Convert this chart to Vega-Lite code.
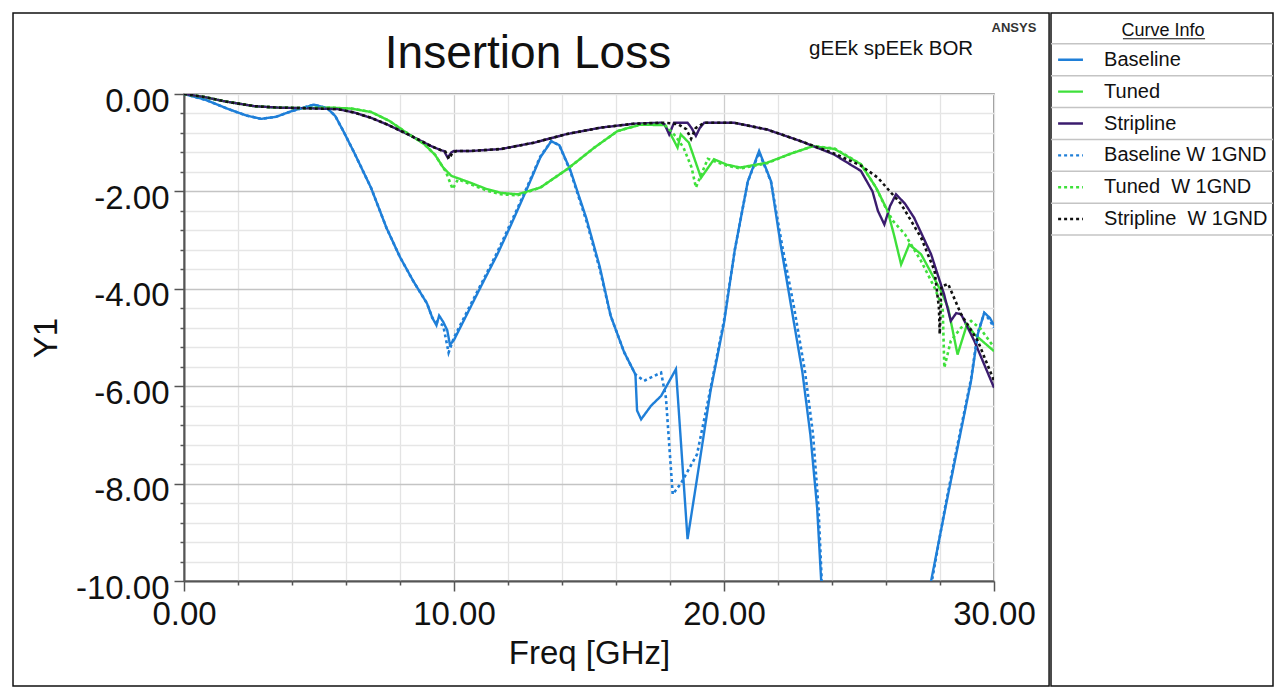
{
  "$schema": "https://vega.github.io/schema/vega-lite/v6.json",
  "background": "white",
  "padding": {"left": 11, "top": 11, "right": 5, "bottom": 2},
  "spacing": -6,
  "columns": 2,
  "config": {
    "font": "Liberation Sans",
    "view": {"stroke": "#777", "strokeWidth": 1.5}
  },
  "datasets": {
    "curves": [
      {"series": "Baseline", "freq": 0, "y1": 0},
      {"series": "Baseline", "freq": 0.8, "y1": -0.12},
      {"series": "Baseline", "freq": 1.6, "y1": -0.3},
      {"series": "Baseline", "freq": 2.3, "y1": -0.44},
      {"series": "Baseline", "freq": 2.85, "y1": -0.51},
      {"series": "Baseline", "freq": 3.4, "y1": -0.47},
      {"series": "Baseline", "freq": 4.0, "y1": -0.35},
      {"series": "Baseline", "freq": 4.8, "y1": -0.22},
      {"series": "Baseline", "freq": 5.3, "y1": -0.29},
      {"series": "Baseline", "freq": 5.6, "y1": -0.45},
      {"series": "Baseline", "freq": 5.9, "y1": -0.76},
      {"series": "Baseline", "freq": 6.3, "y1": -1.2},
      {"series": "Baseline", "freq": 6.93, "y1": -1.93},
      {"series": "Baseline", "freq": 7.5, "y1": -2.75},
      {"series": "Baseline", "freq": 8.0, "y1": -3.35},
      {"series": "Baseline", "freq": 8.5, "y1": -3.85},
      {"series": "Baseline", "freq": 9.0, "y1": -4.3},
      {"series": "Baseline", "freq": 9.2, "y1": -4.6},
      {"series": "Baseline", "freq": 9.35, "y1": -4.75},
      {"series": "Baseline", "freq": 9.45, "y1": -4.55},
      {"series": "Baseline", "freq": 9.6, "y1": -4.68},
      {"series": "Baseline", "freq": 9.75, "y1": -4.85},
      {"series": "Baseline", "freq": 9.85, "y1": -5.15},
      {"series": "Baseline", "freq": 10.0, "y1": -5.05},
      {"series": "Baseline", "freq": 10.5, "y1": -4.5},
      {"series": "Baseline", "freq": 11.1, "y1": -3.84},
      {"series": "Baseline", "freq": 11.6, "y1": -3.3},
      {"series": "Baseline", "freq": 12.1, "y1": -2.7},
      {"series": "Baseline", "freq": 12.7, "y1": -1.95},
      {"series": "Baseline", "freq": 13.2, "y1": -1.3},
      {"series": "Baseline", "freq": 13.6, "y1": -0.97},
      {"series": "Baseline", "freq": 13.9, "y1": -1.05},
      {"series": "Baseline", "freq": 14.3, "y1": -1.55},
      {"series": "Baseline", "freq": 14.9, "y1": -2.55},
      {"series": "Baseline", "freq": 15.4, "y1": -3.55},
      {"series": "Baseline", "freq": 15.8, "y1": -4.55},
      {"series": "Baseline", "freq": 16.3, "y1": -5.3},
      {"series": "Baseline", "freq": 16.72, "y1": -5.76},
      {"series": "Baseline", "freq": 16.78, "y1": -6.5},
      {"series": "Baseline", "freq": 16.93, "y1": -6.68},
      {"series": "Baseline", "freq": 17.3, "y1": -6.4},
      {"series": "Baseline", "freq": 17.67, "y1": -6.2},
      {"series": "Baseline", "freq": 18.22, "y1": -5.65},
      {"series": "Baseline", "freq": 18.65, "y1": -9.14},
      {"series": "Baseline", "freq": 19.0, "y1": -7.9},
      {"series": "Baseline", "freq": 19.5, "y1": -6.1},
      {"series": "Baseline", "freq": 20.0, "y1": -4.7},
      {"series": "Baseline", "freq": 20.4, "y1": -3.2},
      {"series": "Baseline", "freq": 20.88, "y1": -1.8},
      {"series": "Baseline", "freq": 21.3, "y1": -1.17},
      {"series": "Baseline", "freq": 21.74, "y1": -1.79},
      {"series": "Baseline", "freq": 22.1, "y1": -3.1},
      {"series": "Baseline", "freq": 22.5, "y1": -4.4},
      {"series": "Baseline", "freq": 22.9, "y1": -5.7},
      {"series": "Baseline", "freq": 23.2, "y1": -7.0},
      {"series": "Baseline", "freq": 23.45, "y1": -8.5},
      {"series": "Baseline", "freq": 23.6, "y1": -10.0},
      {"series": "Baseline", "freq": 23.7, "y1": -11.5},
      {"series": "Baseline", "freq": 27.5, "y1": -11.5},
      {"series": "Baseline", "freq": 27.67, "y1": -10.0},
      {"series": "Baseline", "freq": 28.2, "y1": -8.5},
      {"series": "Baseline", "freq": 28.65, "y1": -7.26},
      {"series": "Baseline", "freq": 29.15, "y1": -5.89},
      {"series": "Baseline", "freq": 29.4, "y1": -4.93},
      {"series": "Baseline", "freq": 29.64, "y1": -4.49},
      {"series": "Baseline", "freq": 29.85, "y1": -4.6},
      {"series": "Baseline", "freq": 30.0, "y1": -4.75},

      {"series": "Tuned", "freq": 0, "y1": 0},
      {"series": "Tuned", "freq": 0.74, "y1": -0.06},
      {"series": "Tuned", "freq": 1.5, "y1": -0.15},
      {"series": "Tuned", "freq": 2.6, "y1": -0.25},
      {"series": "Tuned", "freq": 3.5, "y1": -0.28},
      {"series": "Tuned", "freq": 4.4, "y1": -0.29},
      {"series": "Tuned", "freq": 5.4, "y1": -0.28},
      {"series": "Tuned", "freq": 6.2, "y1": -0.3},
      {"series": "Tuned", "freq": 6.93, "y1": -0.37},
      {"series": "Tuned", "freq": 7.6, "y1": -0.55},
      {"series": "Tuned", "freq": 8.15, "y1": -0.76},
      {"series": "Tuned", "freq": 8.9, "y1": -1.03},
      {"series": "Tuned", "freq": 9.3, "y1": -1.25},
      {"series": "Tuned", "freq": 9.6, "y1": -1.51},
      {"series": "Tuned", "freq": 9.9, "y1": -1.68},
      {"series": "Tuned", "freq": 10.1, "y1": -1.72},
      {"series": "Tuned", "freq": 10.6, "y1": -1.82},
      {"series": "Tuned", "freq": 11.2, "y1": -1.95},
      {"series": "Tuned", "freq": 11.74, "y1": -2.03},
      {"series": "Tuned", "freq": 12.36, "y1": -2.06},
      {"series": "Tuned", "freq": 13.2, "y1": -1.92},
      {"series": "Tuned", "freq": 14.2, "y1": -1.54},
      {"series": "Tuned", "freq": 15.2, "y1": -1.1},
      {"series": "Tuned", "freq": 16.06, "y1": -0.76},
      {"series": "Tuned", "freq": 16.9, "y1": -0.63},
      {"series": "Tuned", "freq": 17.8, "y1": -0.64},
      {"series": "Tuned", "freq": 18.0, "y1": -0.8},
      {"series": "Tuned", "freq": 18.28, "y1": -1.1},
      {"series": "Tuned", "freq": 18.4, "y1": -0.83},
      {"series": "Tuned", "freq": 18.7, "y1": -1.0},
      {"series": "Tuned", "freq": 19.15, "y1": -1.72},
      {"series": "Tuned", "freq": 19.63, "y1": -1.34},
      {"series": "Tuned", "freq": 20.1, "y1": -1.45},
      {"series": "Tuned", "freq": 20.6, "y1": -1.51},
      {"series": "Tuned", "freq": 21.6, "y1": -1.41},
      {"series": "Tuned", "freq": 22.5, "y1": -1.22},
      {"series": "Tuned", "freq": 23.3, "y1": -1.07},
      {"series": "Tuned", "freq": 24.1, "y1": -1.13},
      {"series": "Tuned", "freq": 25.07, "y1": -1.44},
      {"series": "Tuned", "freq": 25.63, "y1": -1.92},
      {"series": "Tuned", "freq": 26.06, "y1": -2.4},
      {"series": "Tuned", "freq": 26.3, "y1": -2.9},
      {"series": "Tuned", "freq": 26.56, "y1": -3.5},
      {"series": "Tuned", "freq": 26.86, "y1": -3.09},
      {"series": "Tuned", "freq": 27.3, "y1": -3.29},
      {"series": "Tuned", "freq": 28.04, "y1": -4.05},
      {"series": "Tuned", "freq": 28.3, "y1": -4.39},
      {"series": "Tuned", "freq": 28.65, "y1": -5.35},
      {"series": "Tuned", "freq": 29.0, "y1": -4.73},
      {"series": "Tuned", "freq": 29.27, "y1": -4.93},
      {"series": "Tuned", "freq": 30.0, "y1": -5.28},

      {"series": "Stripline", "freq": 0, "y1": 0},
      {"series": "Stripline", "freq": 0.74, "y1": -0.06},
      {"series": "Stripline", "freq": 1.5, "y1": -0.15},
      {"series": "Stripline", "freq": 2.6, "y1": -0.25},
      {"series": "Stripline", "freq": 3.5, "y1": -0.28},
      {"series": "Stripline", "freq": 4.4, "y1": -0.29},
      {"series": "Stripline", "freq": 5.7, "y1": -0.31},
      {"series": "Stripline", "freq": 6.3, "y1": -0.38},
      {"series": "Stripline", "freq": 6.93, "y1": -0.49},
      {"series": "Stripline", "freq": 7.5, "y1": -0.62},
      {"series": "Stripline", "freq": 8.15, "y1": -0.79},
      {"series": "Stripline", "freq": 8.7, "y1": -0.94},
      {"series": "Stripline", "freq": 9.15, "y1": -1.07},
      {"series": "Stripline", "freq": 9.5, "y1": -1.15},
      {"series": "Stripline", "freq": 9.63, "y1": -1.17},
      {"series": "Stripline", "freq": 9.77, "y1": -1.31},
      {"series": "Stripline", "freq": 9.9, "y1": -1.2},
      {"series": "Stripline", "freq": 10.0, "y1": -1.17},
      {"series": "Stripline", "freq": 10.63, "y1": -1.17},
      {"series": "Stripline", "freq": 11.74, "y1": -1.13},
      {"series": "Stripline", "freq": 12.96, "y1": -1.0},
      {"series": "Stripline", "freq": 14.2, "y1": -0.82},
      {"series": "Stripline", "freq": 15.44, "y1": -0.69},
      {"series": "Stripline", "freq": 16.67, "y1": -0.61},
      {"series": "Stripline", "freq": 17.67, "y1": -0.59},
      {"series": "Stripline", "freq": 17.8, "y1": -0.62},
      {"series": "Stripline", "freq": 17.97, "y1": -0.83},
      {"series": "Stripline", "freq": 18.15, "y1": -0.59},
      {"series": "Stripline", "freq": 18.65, "y1": -0.59},
      {"series": "Stripline", "freq": 18.8, "y1": -0.7},
      {"series": "Stripline", "freq": 18.96, "y1": -0.86},
      {"series": "Stripline", "freq": 19.1, "y1": -0.7},
      {"series": "Stripline", "freq": 19.27, "y1": -0.59},
      {"series": "Stripline", "freq": 20.37, "y1": -0.59},
      {"series": "Stripline", "freq": 21.6, "y1": -0.73},
      {"series": "Stripline", "freq": 22.85, "y1": -0.97},
      {"series": "Stripline", "freq": 24.07, "y1": -1.24},
      {"series": "Stripline", "freq": 25.07, "y1": -1.58},
      {"series": "Stripline", "freq": 25.5, "y1": -2.0},
      {"series": "Stripline", "freq": 25.7, "y1": -2.4},
      {"series": "Stripline", "freq": 25.94, "y1": -2.68},
      {"series": "Stripline", "freq": 26.15, "y1": -2.3},
      {"series": "Stripline", "freq": 26.37, "y1": -2.06},
      {"series": "Stripline", "freq": 26.7, "y1": -2.25},
      {"series": "Stripline", "freq": 27.04, "y1": -2.54},
      {"series": "Stripline", "freq": 27.67, "y1": -3.29},
      {"series": "Stripline", "freq": 28.15, "y1": -4.11},
      {"series": "Stripline", "freq": 28.4, "y1": -4.66},
      {"series": "Stripline", "freq": 28.6, "y1": -4.5},
      {"series": "Stripline", "freq": 28.78, "y1": -4.52},
      {"series": "Stripline", "freq": 29.27, "y1": -5.07},
      {"series": "Stripline", "freq": 30.0, "y1": -6.03},

      {"series": "Baseline W 1GND", "freq": 0, "y1": 0},
      {"series": "Baseline W 1GND", "freq": 0.8, "y1": -0.12},
      {"series": "Baseline W 1GND", "freq": 1.6, "y1": -0.3},
      {"series": "Baseline W 1GND", "freq": 2.3, "y1": -0.44},
      {"series": "Baseline W 1GND", "freq": 2.85, "y1": -0.51},
      {"series": "Baseline W 1GND", "freq": 3.4, "y1": -0.47},
      {"series": "Baseline W 1GND", "freq": 4.0, "y1": -0.35},
      {"series": "Baseline W 1GND", "freq": 4.8, "y1": -0.22},
      {"series": "Baseline W 1GND", "freq": 5.3, "y1": -0.29},
      {"series": "Baseline W 1GND", "freq": 5.6, "y1": -0.45},
      {"series": "Baseline W 1GND", "freq": 5.9, "y1": -0.76},
      {"series": "Baseline W 1GND", "freq": 6.3, "y1": -1.2},
      {"series": "Baseline W 1GND", "freq": 6.93, "y1": -1.93},
      {"series": "Baseline W 1GND", "freq": 7.5, "y1": -2.75},
      {"series": "Baseline W 1GND", "freq": 8.0, "y1": -3.35},
      {"series": "Baseline W 1GND", "freq": 8.5, "y1": -3.85},
      {"series": "Baseline W 1GND", "freq": 9.0, "y1": -4.3},
      {"series": "Baseline W 1GND", "freq": 9.2, "y1": -4.6},
      {"series": "Baseline W 1GND", "freq": 9.4, "y1": -4.7},
      {"series": "Baseline W 1GND", "freq": 9.6, "y1": -4.75},
      {"series": "Baseline W 1GND", "freq": 9.8, "y1": -5.31},
      {"series": "Baseline W 1GND", "freq": 10.0, "y1": -5.0},
      {"series": "Baseline W 1GND", "freq": 10.5, "y1": -4.45},
      {"series": "Baseline W 1GND", "freq": 11.1, "y1": -3.8},
      {"series": "Baseline W 1GND", "freq": 11.6, "y1": -3.25},
      {"series": "Baseline W 1GND", "freq": 12.1, "y1": -2.65},
      {"series": "Baseline W 1GND", "freq": 12.7, "y1": -1.92},
      {"series": "Baseline W 1GND", "freq": 13.2, "y1": -1.28},
      {"series": "Baseline W 1GND", "freq": 13.6, "y1": -0.97},
      {"series": "Baseline W 1GND", "freq": 13.9, "y1": -1.05},
      {"series": "Baseline W 1GND", "freq": 14.3, "y1": -1.57},
      {"series": "Baseline W 1GND", "freq": 14.9, "y1": -2.6},
      {"series": "Baseline W 1GND", "freq": 15.4, "y1": -3.6},
      {"series": "Baseline W 1GND", "freq": 15.8, "y1": -4.55},
      {"series": "Baseline W 1GND", "freq": 16.3, "y1": -5.3},
      {"series": "Baseline W 1GND", "freq": 16.72, "y1": -5.76},
      {"series": "Baseline W 1GND", "freq": 17.04, "y1": -5.89},
      {"series": "Baseline W 1GND", "freq": 17.67, "y1": -5.72},
      {"series": "Baseline W 1GND", "freq": 17.85, "y1": -6.24},
      {"series": "Baseline W 1GND", "freq": 18.1, "y1": -8.22},
      {"series": "Baseline W 1GND", "freq": 18.4, "y1": -8.0},
      {"series": "Baseline W 1GND", "freq": 19.0, "y1": -7.4},
      {"series": "Baseline W 1GND", "freq": 19.5, "y1": -6.05},
      {"series": "Baseline W 1GND", "freq": 20.0, "y1": -4.65},
      {"series": "Baseline W 1GND", "freq": 20.4, "y1": -3.2},
      {"series": "Baseline W 1GND", "freq": 20.88, "y1": -1.8},
      {"series": "Baseline W 1GND", "freq": 21.3, "y1": -1.2},
      {"series": "Baseline W 1GND", "freq": 21.74, "y1": -1.8},
      {"series": "Baseline W 1GND", "freq": 22.15, "y1": -3.1},
      {"series": "Baseline W 1GND", "freq": 22.6, "y1": -4.4},
      {"series": "Baseline W 1GND", "freq": 23.0, "y1": -5.7},
      {"series": "Baseline W 1GND", "freq": 23.3, "y1": -7.0},
      {"series": "Baseline W 1GND", "freq": 23.5, "y1": -8.5},
      {"series": "Baseline W 1GND", "freq": 23.62, "y1": -10.0},
      {"series": "Baseline W 1GND", "freq": 23.72, "y1": -11.5},
      {"series": "Baseline W 1GND", "freq": 27.5, "y1": -11.5},
      {"series": "Baseline W 1GND", "freq": 27.7, "y1": -10.0},
      {"series": "Baseline W 1GND", "freq": 28.2, "y1": -8.45},
      {"series": "Baseline W 1GND", "freq": 28.65, "y1": -7.2},
      {"series": "Baseline W 1GND", "freq": 29.15, "y1": -5.85},
      {"series": "Baseline W 1GND", "freq": 29.4, "y1": -4.9},
      {"series": "Baseline W 1GND", "freq": 29.64, "y1": -4.5},
      {"series": "Baseline W 1GND", "freq": 29.85, "y1": -4.65},
      {"series": "Baseline W 1GND", "freq": 30.0, "y1": -4.8},

      {"series": "Tuned \u00a0W 1GND", "freq": 0, "y1": 0},
      {"series": "Tuned \u00a0W 1GND", "freq": 0.74, "y1": -0.06},
      {"series": "Tuned \u00a0W 1GND", "freq": 1.5, "y1": -0.15},
      {"series": "Tuned \u00a0W 1GND", "freq": 2.6, "y1": -0.25},
      {"series": "Tuned \u00a0W 1GND", "freq": 3.5, "y1": -0.28},
      {"series": "Tuned \u00a0W 1GND", "freq": 4.4, "y1": -0.29},
      {"series": "Tuned \u00a0W 1GND", "freq": 5.4, "y1": -0.28},
      {"series": "Tuned \u00a0W 1GND", "freq": 6.2, "y1": -0.3},
      {"series": "Tuned \u00a0W 1GND", "freq": 6.93, "y1": -0.37},
      {"series": "Tuned \u00a0W 1GND", "freq": 7.6, "y1": -0.55},
      {"series": "Tuned \u00a0W 1GND", "freq": 8.15, "y1": -0.76},
      {"series": "Tuned \u00a0W 1GND", "freq": 8.9, "y1": -1.03},
      {"series": "Tuned \u00a0W 1GND", "freq": 9.3, "y1": -1.25},
      {"series": "Tuned \u00a0W 1GND", "freq": 9.7, "y1": -1.6},
      {"series": "Tuned \u00a0W 1GND", "freq": 9.95, "y1": -1.95},
      {"series": "Tuned \u00a0W 1GND", "freq": 10.15, "y1": -1.75},
      {"series": "Tuned \u00a0W 1GND", "freq": 10.6, "y1": -1.85},
      {"series": "Tuned \u00a0W 1GND", "freq": 11.2, "y1": -1.98},
      {"series": "Tuned \u00a0W 1GND", "freq": 11.74, "y1": -2.06},
      {"series": "Tuned \u00a0W 1GND", "freq": 12.36, "y1": -2.08},
      {"series": "Tuned \u00a0W 1GND", "freq": 13.2, "y1": -1.92},
      {"series": "Tuned \u00a0W 1GND", "freq": 14.2, "y1": -1.54},
      {"series": "Tuned \u00a0W 1GND", "freq": 15.2, "y1": -1.1},
      {"series": "Tuned \u00a0W 1GND", "freq": 16.06, "y1": -0.76},
      {"series": "Tuned \u00a0W 1GND", "freq": 16.9, "y1": -0.63},
      {"series": "Tuned \u00a0W 1GND", "freq": 17.8, "y1": -0.63},
      {"series": "Tuned \u00a0W 1GND", "freq": 18.2, "y1": -0.86},
      {"series": "Tuned \u00a0W 1GND", "freq": 18.5, "y1": -1.1},
      {"series": "Tuned \u00a0W 1GND", "freq": 18.8, "y1": -1.51},
      {"series": "Tuned \u00a0W 1GND", "freq": 18.96, "y1": -1.92},
      {"series": "Tuned \u00a0W 1GND", "freq": 19.4, "y1": -1.33},
      {"series": "Tuned \u00a0W 1GND", "freq": 20.1, "y1": -1.47},
      {"series": "Tuned \u00a0W 1GND", "freq": 20.6, "y1": -1.53},
      {"series": "Tuned \u00a0W 1GND", "freq": 21.6, "y1": -1.42},
      {"series": "Tuned \u00a0W 1GND", "freq": 22.5, "y1": -1.22},
      {"series": "Tuned \u00a0W 1GND", "freq": 23.3, "y1": -1.07},
      {"series": "Tuned \u00a0W 1GND", "freq": 24.1, "y1": -1.12},
      {"series": "Tuned \u00a0W 1GND", "freq": 25.07, "y1": -1.44},
      {"series": "Tuned \u00a0W 1GND", "freq": 25.63, "y1": -1.92},
      {"series": "Tuned \u00a0W 1GND", "freq": 26.0, "y1": -2.35},
      {"series": "Tuned \u00a0W 1GND", "freq": 26.25, "y1": -2.6},
      {"series": "Tuned \u00a0W 1GND", "freq": 26.7, "y1": -2.88},
      {"series": "Tuned \u00a0W 1GND", "freq": 27.3, "y1": -3.43},
      {"series": "Tuned \u00a0W 1GND", "freq": 27.8, "y1": -3.98},
      {"series": "Tuned \u00a0W 1GND", "freq": 28.1, "y1": -4.39},
      {"series": "Tuned \u00a0W 1GND", "freq": 28.16, "y1": -5.62},
      {"series": "Tuned \u00a0W 1GND", "freq": 28.4, "y1": -5.07},
      {"series": "Tuned \u00a0W 1GND", "freq": 28.78, "y1": -4.8},
      {"series": "Tuned \u00a0W 1GND", "freq": 29.15, "y1": -4.66},
      {"series": "Tuned \u00a0W 1GND", "freq": 29.5, "y1": -4.82},
      {"series": "Tuned \u00a0W 1GND", "freq": 30.0, "y1": -5.2},

      {"series": "Stripline \u00a0W 1GND", "freq": 0, "y1": 0},
      {"series": "Stripline \u00a0W 1GND", "freq": 0.74, "y1": -0.06},
      {"series": "Stripline \u00a0W 1GND", "freq": 1.5, "y1": -0.15},
      {"series": "Stripline \u00a0W 1GND", "freq": 2.6, "y1": -0.25},
      {"series": "Stripline \u00a0W 1GND", "freq": 3.5, "y1": -0.28},
      {"series": "Stripline \u00a0W 1GND", "freq": 4.4, "y1": -0.29},
      {"series": "Stripline \u00a0W 1GND", "freq": 5.7, "y1": -0.31},
      {"series": "Stripline \u00a0W 1GND", "freq": 6.3, "y1": -0.38},
      {"series": "Stripline \u00a0W 1GND", "freq": 6.93, "y1": -0.49},
      {"series": "Stripline \u00a0W 1GND", "freq": 7.5, "y1": -0.62},
      {"series": "Stripline \u00a0W 1GND", "freq": 8.15, "y1": -0.79},
      {"series": "Stripline \u00a0W 1GND", "freq": 8.7, "y1": -0.94},
      {"series": "Stripline \u00a0W 1GND", "freq": 9.15, "y1": -1.07},
      {"series": "Stripline \u00a0W 1GND", "freq": 9.5, "y1": -1.15},
      {"series": "Stripline \u00a0W 1GND", "freq": 9.68, "y1": -1.18},
      {"series": "Stripline \u00a0W 1GND", "freq": 9.82, "y1": -1.33},
      {"series": "Stripline \u00a0W 1GND", "freq": 9.95, "y1": -1.2},
      {"series": "Stripline \u00a0W 1GND", "freq": 10.1, "y1": -1.17},
      {"series": "Stripline \u00a0W 1GND", "freq": 10.63, "y1": -1.17},
      {"series": "Stripline \u00a0W 1GND", "freq": 11.74, "y1": -1.13},
      {"series": "Stripline \u00a0W 1GND", "freq": 12.96, "y1": -1.0},
      {"series": "Stripline \u00a0W 1GND", "freq": 14.2, "y1": -0.82},
      {"series": "Stripline \u00a0W 1GND", "freq": 15.44, "y1": -0.69},
      {"series": "Stripline \u00a0W 1GND", "freq": 16.67, "y1": -0.61},
      {"series": "Stripline \u00a0W 1GND", "freq": 17.67, "y1": -0.59},
      {"series": "Stripline \u00a0W 1GND", "freq": 18.0, "y1": -0.6},
      {"series": "Stripline \u00a0W 1GND", "freq": 18.3, "y1": -0.62},
      {"series": "Stripline \u00a0W 1GND", "freq": 18.6, "y1": -0.72},
      {"series": "Stripline \u00a0W 1GND", "freq": 18.78, "y1": -0.92},
      {"series": "Stripline \u00a0W 1GND", "freq": 18.95, "y1": -0.7},
      {"series": "Stripline \u00a0W 1GND", "freq": 19.27, "y1": -0.59},
      {"series": "Stripline \u00a0W 1GND", "freq": 20.37, "y1": -0.59},
      {"series": "Stripline \u00a0W 1GND", "freq": 21.6, "y1": -0.73},
      {"series": "Stripline \u00a0W 1GND", "freq": 22.85, "y1": -0.97},
      {"series": "Stripline \u00a0W 1GND", "freq": 24.07, "y1": -1.22},
      {"series": "Stripline \u00a0W 1GND", "freq": 25.07, "y1": -1.47},
      {"series": "Stripline \u00a0W 1GND", "freq": 25.7, "y1": -1.72},
      {"series": "Stripline \u00a0W 1GND", "freq": 26.56, "y1": -2.26},
      {"series": "Stripline \u00a0W 1GND", "freq": 27.3, "y1": -2.95},
      {"series": "Stripline \u00a0W 1GND", "freq": 27.8, "y1": -3.63},
      {"series": "Stripline \u00a0W 1GND", "freq": 27.96, "y1": -4.39},
      {"series": "Stripline \u00a0W 1GND", "freq": 27.99, "y1": -4.93},
      {"series": "Stripline \u00a0W 1GND", "freq": 28.05, "y1": -3.95},
      {"series": "Stripline \u00a0W 1GND", "freq": 28.3, "y1": -3.9},
      {"series": "Stripline \u00a0W 1GND", "freq": 28.78, "y1": -4.52},
      {"series": "Stripline \u00a0W 1GND", "freq": 29.4, "y1": -5.07},
      {"series": "Stripline \u00a0W 1GND", "freq": 30.0, "y1": -5.89}
    ],
    "legend": [
      {"item": "Curve Info"},
      {"item": "Baseline"},
      {"item": "Tuned"},
      {"item": "Stripline"},
      {"item": "Baseline W 1GND"},
      {"item": "Tuned \u00a0W 1GND"},
      {"item": "Stripline \u00a0W 1GND"}
    ]
  },
  "concat": [
    {
      "width": 810,
      "height": 487,
      "layer": [
        {
          "data": {"values": [{"frame": "outer"}]},
          "mark": {"type": "rect", "fill": null, "fillOpacity": 0, "stroke": "#111", "strokeWidth": 1.5, "clip": false},
          "encoding": {
            "x": {"datum": -6.333, "type": "quantitative"},
            "x2": {"datum": 32.04},
            "y": {"datum": 1.663, "type": "quantitative"},
            "y2": {"datum": -12.156}
          }
        },
        {
          "data": {"name": "curves"},
          "transform": [{"filter": {"field": "series", "oneOf": ["Baseline", "Tuned", "Stripline"]}}],
          "mark": {"type": "line", "clip": true, "strokeWidth": 2.4},
          "encoding": {
            "x": {
              "field": "freq", "type": "quantitative",
              "scale": {"domain": [0, 30], "nice": false},
              "axis": {
                "values": [0, 2, 4, 6, 8, 10, 12, 14, 16, 18, 20, 22, 24, 26, 28, 30],
                "tickCount": 40,
                "labelExpr": "indexof([0, 10, 20, 30], datum.value) >= 0 ? format(datum.value, '.2f') : ''",
                "labelFontSize": 33, "labelColor": "#111", "labelFlush": false, "labelOverlap": false, "labelPadding": 7,
                "tickSize": {"condition": {"test": "indexof([0, 10, 20, 30], datum.value) >= 0", "value": 10}, "value": 4},
                "tickColor": "#555", "tickWidth": 1.5,
                "domainColor": "#555", "domainWidth": 2,
                "grid": true,
                "gridColor": {"condition": {"test": "indexof([10, 20], datum.value) >= 0", "value": "#cdcdcd"}, "value": "#e3e3e3"},
                "gridWidth": 1.3,
                "title": "Freq [GHz]", "titleFontSize": 33, "titleFontWeight": "normal", "titleColor": "#111", "titlePadding": 6
              }
            },
            "y": {
              "field": "y1", "type": "quantitative",
              "scale": {"domain": [-10, 0], "nice": false},
              "axis": {
                "values": [0, -0.4, -0.8, -1.2, -1.6, -2, -2.4, -2.8, -3.2, -3.6, -4, -4.4, -4.8, -5.2, -5.6, -6, -6.4, -6.8, -7.2, -7.6, -8, -8.4, -8.8, -9.2, -9.6, -10],
                "tickCount": 40,
                "labelExpr": "indexof([0, -2, -4, -6, -8, -10], datum.value) >= 0 ? (datum.value < 0 ? '-' : '') + format(abs(datum.value), '.2f') : ''",
                "labelFontSize": 33, "labelColor": "#111", "labelOverlap": false, "labelPadding": 5, "labelOffset": 7,
                "tickSize": {"condition": {"test": "indexof([0, -2, -4, -6, -8, -10], datum.value) >= 0", "value": 10}, "value": 4},
                "tickColor": "#555", "tickWidth": 1.5,
                "domainColor": "#555", "domainWidth": 2,
                "grid": true,
                "gridColor": {"condition": {"test": "indexof([-2, -4, -6, -8], datum.value) >= 0", "value": "#c4c4c4"}, "value": "#e6e6e6"},
                "gridWidth": 1.3,
                "title": "Y1", "titleFontSize": 33, "titleFontWeight": "normal", "titleColor": "#111", "titlePadding": 12
              }
            },
            "color": {
              "field": "series", "type": "nominal",
              "scale": {
                "domain": ["Baseline", "Tuned", "Stripline", "Baseline W 1GND", "Tuned \u00a0W 1GND", "Stripline \u00a0W 1GND"],
                "range": ["#1f7fd8", "#3ee03a", "#3b1c6e", "#1f7fd8", "#3ee03a", "#111111"]
              },
              "legend": null
            },
            "strokeDash": {
              "field": "series", "type": "nominal",
              "scale": {
                "domain": ["Baseline", "Tuned", "Stripline", "Baseline W 1GND", "Tuned \u00a0W 1GND", "Stripline \u00a0W 1GND"],
                "range": [[1, 0], [1, 0], [1, 0], [3, 3], [3, 3], [3, 3]]
              },
              "legend": null
            }
          }
        },
        {
          "data": {"name": "curves"},
          "transform": [{"filter": {"field": "series", "oneOf": ["Baseline W 1GND", "Tuned \u00a0W 1GND", "Stripline \u00a0W 1GND"]}}],
          "mark": {"type": "line", "clip": true, "strokeWidth": 2.6},
          "encoding": {
            "x": {"field": "freq", "type": "quantitative"},
            "y": {"field": "y1", "type": "quantitative"},
            "color": {"field": "series", "type": "nominal", "legend": null},
            "strokeDash": {"field": "series", "type": "nominal", "legend": null}
          }
        },
        {
          "data": {"values": [{"label": "Insertion Loss"}]},
          "mark": {"type": "text", "fontSize": 46, "color": "#111", "baseline": "middle", "clip": false},
          "encoding": {
            "x": {"datum": 12.74, "type": "quantitative"},
            "y": {"datum": 0.82, "type": "quantitative"},
            "text": {"field": "label"}
          }
        },
        {
          "data": {"values": [{"label": "gEEk spEEk BOR"}]},
          "mark": {"type": "text", "fontSize": 20.5, "color": "#111", "baseline": "middle", "clip": false},
          "encoding": {
            "x": {"datum": 26.19, "type": "quantitative"},
            "y": {"datum": 0.92, "type": "quantitative"},
            "text": {"field": "label"}
          }
        },
        {
          "data": {"values": [{"label": "ANSYS"}]},
          "mark": {"type": "text", "fontSize": 13, "fontWeight": "bold", "color": "#333", "baseline": "middle", "clip": false},
          "encoding": {
            "x": {"datum": 30.74, "type": "quantitative"},
            "y": {"datum": 1.355, "type": "quantitative"},
            "text": {"field": "label"}
          }
        }
      ]
    },
    {
      "width": 222,
      "height": 592,
      "view": {"stroke": null},
      "data": {"name": "legend"},
      "resolve": {"scale": {"y": "independent"}},
      "layer": [
        {
          "data": {"values": [{"box": "legend"}]},
          "mark": {"type": "rect", "fill": null, "fillOpacity": 0, "stroke": "#111", "strokeWidth": 1.5, "clip": false},
          "encoding": {
            "x": {"datum": 0, "type": "quantitative", "scale": {"domain": [0, 1], "nice": false}, "axis": null},
            "x2": {"datum": 1},
            "y": {"datum": 0, "type": "quantitative", "scale": {"domain": [0, 1], "range": [-81, 592], "nice": false, "zero": false}, "axis": null},
            "y2": {"datum": 1}
          }
        },
        {
          "layer": [
            {
              "mark": {"type": "rule", "color": "#c4c4c4", "strokeWidth": 1.5, "clip": false},
              "encoding": {
                "y": {
                  "field": "item", "type": "nominal", "bandPosition": 1,
                  "scale": {"type": "band", "domain": ["Curve Info", "Baseline", "Tuned", "Stripline", "Baseline W 1GND", "Tuned \u00a0W 1GND", "Stripline \u00a0W 1GND"], "range": [-82, 141], "paddingInner": 0, "paddingOuter": 0},
                  "axis": null
                }
              }
            },
            {
              "transform": [{"filter": "datum.item !== 'Curve Info'"}],
              "mark": {"type": "rule", "strokeWidth": 2.4, "clip": false},
              "encoding": {
                "x": {"datum": 0.032, "type": "quantitative"},
                "x2": {"datum": 0.144},
                "y": {"field": "item", "type": "nominal", "bandPosition": 0.5},
                "color": {"field": "item", "type": "nominal", "legend": null},
                "strokeDash": {"field": "item", "type": "nominal", "legend": null}
              }
            },
            {
              "transform": [{"filter": "datum.item !== 'Curve Info'"}],
              "mark": {"type": "text", "align": "left", "baseline": "middle", "fontSize": 20, "color": "#111", "clip": false},
              "encoding": {
                "x": {"datum": 0.239, "type": "quantitative"},
                "y": {"field": "item", "type": "nominal", "bandPosition": 0.5},
                "text": {"field": "item"}
              }
            },
            {
              "transform": [{"filter": "datum.item === 'Curve Info'"}],
              "mark": {"type": "text", "align": "center", "baseline": "middle", "fontSize": 18, "color": "#111", "clip": false},
              "encoding": {
                "x": {"datum": 0.505, "type": "quantitative"},
                "y": {"field": "item", "type": "nominal", "bandPosition": 0.6},
                "text": {"field": "item"}
              }
            },
            {
              "transform": [{"filter": "datum.item === 'Curve Info'"}],
              "mark": {"type": "rule", "color": "#111", "strokeWidth": 1, "clip": false},
              "encoding": {
                "x": {"datum": 0.324, "type": "quantitative"},
                "x2": {"datum": 0.694},
                "y": {"field": "item", "type": "nominal", "bandPosition": 0.84}
              }
            }
          ]
        }
      ]
    }
  ]
}
